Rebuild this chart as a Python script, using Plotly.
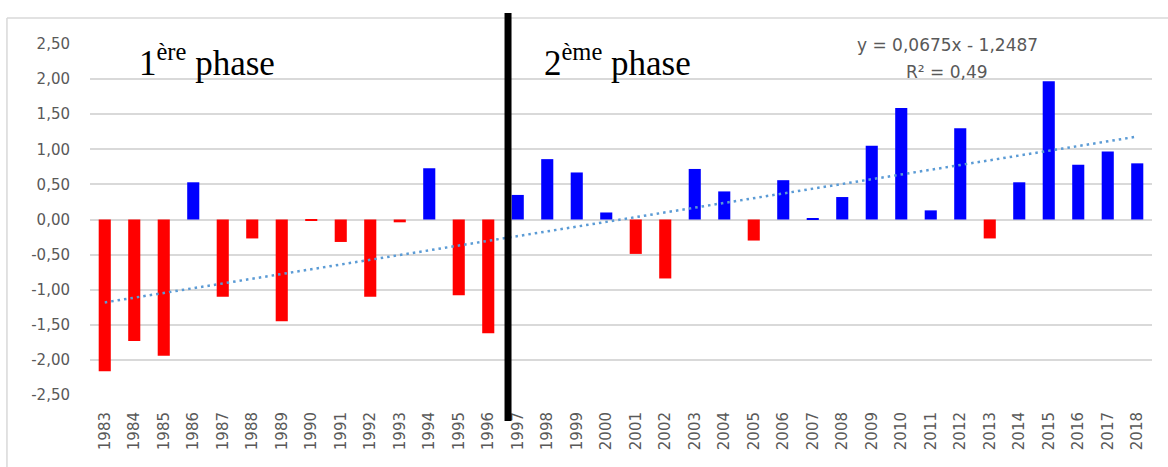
import plotly.graph_objects as go

years = [str(y) for y in range(1983, 2019)]
values = [-2.16, -1.73, -1.94, 0.53, -1.10, -0.27, -1.45, -0.02, -0.32, -1.10,
          -0.04, 0.73, -1.08, -1.62, 0.35, 0.86, 0.67, 0.10, -0.49, -0.84,
          0.72, 0.40, -0.30, 0.56, 0.02, 0.32, 1.05, 1.59, 0.13, 1.30,
          -0.27, 0.53, 1.97, 0.78, 0.97, 0.80]
trend_slope = 0.0675
trend_intercept = -1.2487
y_ticks = [2.5, 2.0, 1.5, 1.0, 0.5, 0.0, -0.5, -1.0, -1.5, -2.0, -2.5]
y_tick_labels = ["2,50", "2,00", "1,50", "1,00", "0,50", "0,00",
                 "-0,50", "-1,00", "-1,50", "-2,00", "-2,50"]
equation_text = "y = 0,0675x - 1,2487"
r2_text = "R² = 0,49"

colors = ["#0000FF" if v >= 0 else "#FF0000" for v in values]

fig = go.Figure()
fig.add_trace(go.Bar(x=years, y=values, marker=dict(color=colors, line=dict(width=0)),
                     showlegend=False))
n = len(years)
fig.add_trace(go.Scatter(
    x=[years[0], years[-1]],
    y=[trend_slope * 1 + trend_intercept, trend_slope * n + trend_intercept],
    mode="lines", line=dict(color="#5B9BD5", width=2.5, dash="2.5px,4px"),
    showlegend=False))

grid = "#d9d9d9"
tickfont = dict(family="DejaVu Sans", size=15, color="#595959")
fig.update_layout(
    width=1168, height=467,
    margin=dict(l=90, r=16, t=44, b=72),
    paper_bgcolor="white", plot_bgcolor="white",
    bargap=0.59,
    xaxis=dict(type="category", tickangle=-90, tickfont=tickfont, automargin=False,
               ticks="outside", ticklen=10, tickcolor="rgba(0,0,0,0)",
               showgrid=False, showline=False, range=[-0.5, n - 0.5]),
    yaxis=dict(range=[-2.5, 2.5], tickvals=y_ticks, ticktext=y_tick_labels,
               tickfont=tickfont, showgrid=True, gridcolor=grid, gridwidth=1.5,
               zeroline=True, zerolinecolor=grid, zerolinewidth=1.5, automargin=False,
               ticks="outside", ticklen=16, tickcolor="rgba(0,0,0,0)",
               showline=False),
)

# chart frame (top and left edges visible)
fig.add_shape(type="line", xref="paper", yref="paper", x0=-0.0782, x1=1.02,
              y0=1.074, y1=1.074, line=dict(color=grid, width=1.5), layer="below")
fig.add_shape(type="line", xref="paper", yref="paper", x0=-0.0782, x1=-0.0782,
              y0=1.074, y1=-0.21, line=dict(color=grid, width=1.5), layer="below")

# phase separator
fig.add_shape(type="line", xref="x", yref="paper", x0=13.67, x1=13.67,
              y0=1.088, y1=-0.074, line=dict(color="black", width=7))

serif = dict(family="Liberation Serif", size=35, color="black")
fig.add_annotation(text="1<sup>ère</sup> phase", xref="paper", yref="paper",
                   x=0.0443, y=0.954, xanchor="left", yanchor="middle",
                   showarrow=False, font=serif)
fig.add_annotation(text="2<sup>ème</sup> phase", xref="paper", yref="paper",
                   x=0.4256, y=0.954, xanchor="left", yanchor="middle",
                   showarrow=False, font=serif)

eqfont = dict(family="DejaVu Sans", size=17, color="#595959")
fig.add_annotation(text=equation_text, xref="paper", yref="paper", x=0.807, y=0.997,
                   xanchor="center", yanchor="middle", showarrow=False, font=eqfont)
fig.add_annotation(text=r2_text, xref="paper", yref="paper", x=0.807, y=0.92,
                   xanchor="center", yanchor="middle", showarrow=False, font=eqfont)

fig.write_html("out.html", config={"displayModeBar": False},
               post_script="document.body.style.margin='0';")
